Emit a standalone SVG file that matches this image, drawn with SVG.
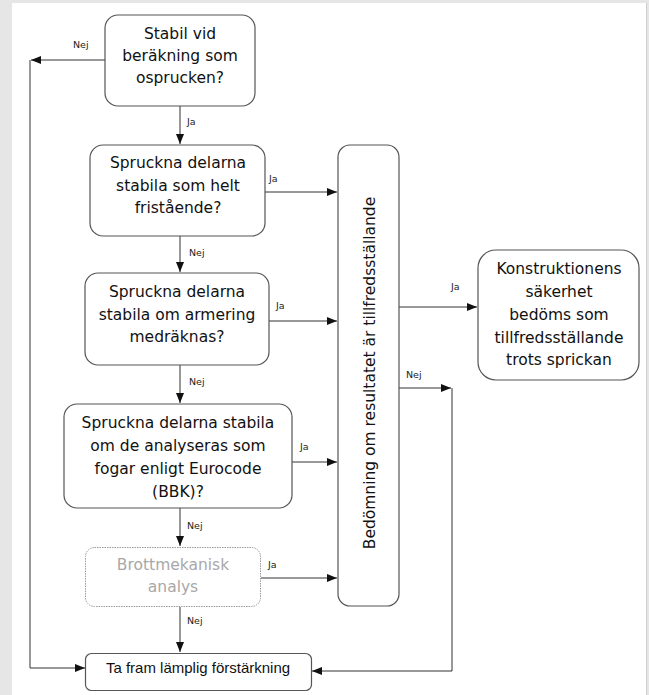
<svg xmlns="http://www.w3.org/2000/svg" width="649" height="695" viewBox="0 0 649 695">
<style>
.node{fill:#fff;stroke:#555;stroke-width:1.2}
.dim{fill:#fff;stroke:#999;stroke-width:1;stroke-dasharray:1.5 1}
.t{font-family:"DejaVu Sans",Verdana,sans-serif;font-size:15.5px;fill:#111;text-anchor:middle}
.tg{font-family:"DejaVu Sans",Verdana,sans-serif;font-size:15.5px;fill:#a8a8a8;text-anchor:middle}
.tn{font-family:"Liberation Sans",Arial,sans-serif;font-size:15px;fill:#111;text-anchor:middle}
.lbl{font-family:"DejaVu Sans",Verdana,sans-serif;font-size:9.5px;fill:#222}
.c{fill:none;stroke:#333;stroke-width:1}
</style>
<defs>
<marker id="ah" viewBox="0 0 10 8" refX="10" refY="4" markerWidth="10" markerHeight="8" markerUnits="userSpaceOnUse" orient="auto">
<path d="M0,0 L10,4 L0,8 Z" fill="#111"/>
</marker>
</defs>
<rect x="0" y="0" width="649" height="695" fill="#e6e6e6"/>
<rect x="12" y="3" width="634" height="692" fill="#fff"/>
<line x1="646.5" y1="3" x2="646.5" y2="695" stroke="#d0d0d0" stroke-width="1"/>

<g id="connectors">
<path class="c" d="M180,106 V144" marker-end="url(#ah)"/>
<path class="c" d="M105,60 H31" marker-end="url(#ah)"/>
<path class="c" d="M30,60 V668 H85" marker-end="url(#ah)"/>
<path class="c" d="M265,192 H337" marker-end="url(#ah)"/>
<path class="c" d="M180,236 V272" marker-end="url(#ah)"/>
<path class="c" d="M269,321 H337" marker-end="url(#ah)"/>
<path class="c" d="M180,365 V403" marker-end="url(#ah)"/>
<path class="c" d="M292,462 H337" marker-end="url(#ah)"/>
<path class="c" d="M180,508 V546" marker-end="url(#ah)"/>
<path class="c" d="M261,578 H337" marker-end="url(#ah)"/>
<path class="c" d="M180,607 V652" marker-end="url(#ah)"/>
<path class="c" d="M399,307 H477" marker-end="url(#ah)"/>
<path class="c" d="M399,388 H451" marker-end="url(#ah)"/>
<path class="c" d="M452,388 V671 H312" marker-end="url(#ah)"/>
<text class="lbl" x="73" y="48">Nej</text>
<text class="lbl" x="187" y="125">Ja</text>
<text class="lbl" x="269" y="182">Ja</text>
<text class="lbl" x="189" y="256">Nej</text>
<text class="lbl" x="276" y="309">Ja</text>
<text class="lbl" x="189" y="385">Nej</text>
<text class="lbl" x="300" y="450">Ja</text>
<text class="lbl" x="187" y="529">Nej</text>
<text class="lbl" x="268" y="568">Ja</text>
<text class="lbl" x="187" y="624">Nej</text>
<text class="lbl" x="451" y="290">Ja</text>
<text class="lbl" x="406" y="378">Nej</text>
</g>

<g id="n1">
<rect class="node" x="105" y="15" width="150" height="91" rx="13"/>
<text class="t" x="180" y="39">Stabil vid</text>
<text class="t" x="180" y="61">beräkning som</text>
<text class="t" x="180" y="83">osprucken?</text>
</g>
<g id="n2">
<rect class="node" x="90" y="145" width="175" height="91" rx="13"/>
<text class="t" x="178" y="168">Spruckna delarna</text>
<text class="t" x="178" y="191">stabila som helt</text>
<text class="t" x="178" y="213">fristående?</text>
</g>
<g id="n3">
<rect class="node" x="85" y="273" width="184" height="92" rx="13"/>
<text class="t" x="177" y="297">Spruckna delarna</text>
<text class="t" x="177" y="320">stabila om armering</text>
<text class="t" x="177" y="342">medräknas?</text>
</g>
<g id="n4">
<rect class="node" x="64" y="404" width="228" height="104" rx="13"/>
<text class="t" x="178" y="428">Spruckna delarna stabila</text>
<text class="t" x="178" y="451">om de analyseras som</text>
<text class="t" x="178" y="474">fogar enligt Eurocode</text>
<text class="t" x="178" y="497">(BBK)?</text>
</g>
<g id="n5">
<rect class="dim" x="85.5" y="547.5" width="175" height="59" rx="9"/>
<text class="tg" x="173" y="570">Brottmekanisk</text>
<text class="tg" x="173" y="592">analys</text>
</g>
<g id="n6">
<rect class="node" x="85.5" y="653.5" width="226" height="37" rx="6"/>
<text class="tn" x="198" y="673">Ta fram lämplig förstärkning</text>
</g>
<g id="n7">
<rect class="node" x="338" y="145" width="61" height="461" rx="12"/>
<text class="t" transform="translate(375,373) rotate(-90)">Bedömning om resultatet är tillfredsställande</text>
</g>
<g id="n8">
<rect class="node" x="478" y="250" width="161" height="130" rx="18"/>
<text class="t" x="559" y="274">Konstruktionens</text>
<text class="t" x="559" y="297">säkerhet</text>
<text class="t" x="559" y="320">bedöms som</text>
<text class="t" x="559" y="343">tillfredsställande</text>
<text class="t" x="559" y="365">trots sprickan</text>
</g>
</svg>
